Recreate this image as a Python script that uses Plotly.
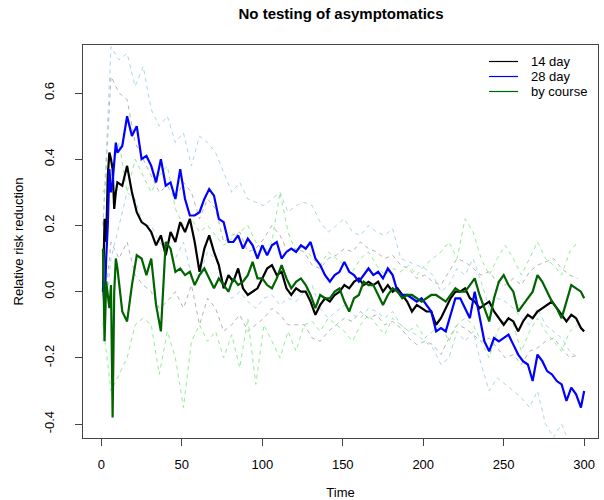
import plotly.graph_objects as go

# Daily estimates: days 1-9 individually, then every third day, then day 300
days = list(range(1, 10)) + list(range(10, 299, 3)) + [300]

rr_14day = [0.00, 0.22, 0.15, 0.35, 0.42, 0.40, 0.37, 0.25, 0.30,
            0.33, 0.32, 0.38, 0.30, 0.24, 0.21, 0.20, 0.18, 0.14, 0.17,
            0.11, 0.18, 0.15, 0.21, 0.18, 0.22, 0.15, 0.06, 0.13, 0.17,
            0.12, 0.08, 0.01, 0.05, 0.03, 0.07, 0.01, -0.01, 0.00, 0.01,
            0.04, 0.07, 0.08, 0.05, 0.06, 0.01, -0.01, 0.01, 0.00, 0.00,
            -0.03, -0.07, -0.04, -0.02, -0.03, -0.01, 0.00, 0.02, 0.01, 0.03,
            0.04, 0.02, 0.03, 0.02, 0.03, 0.00, 0.02, 0.00, 0.01, -0.01,
            -0.03, -0.06, -0.04, -0.05, -0.06, -0.06, -0.10, -0.08, -0.05, -0.02,
            0.00, 0.00, 0.01, -0.02, -0.03, -0.05, -0.04, -0.03, -0.06, -0.08,
            -0.10, -0.08, -0.09, -0.12, -0.09, -0.07, -0.08, -0.06, -0.05, -0.04,
            -0.03, -0.05, -0.07, -0.09, -0.07, -0.08, -0.11,
            -0.12]

rr_28day = [0.03, -0.05, 0.10, 0.20, 0.37, 0.30, 0.33, 0.38, 0.45,
            0.42, 0.44, 0.53, 0.47, 0.50, 0.40, 0.41, 0.38, 0.33, 0.40,
            0.32, 0.33, 0.28, 0.37, 0.28, 0.23, 0.23, 0.24, 0.28, 0.31,
            0.29, 0.22, 0.21, 0.15, 0.15, 0.17, 0.13, 0.16, 0.14, 0.10,
            0.14, 0.11, 0.14, 0.15, 0.10, 0.12, 0.13, 0.12, 0.14, 0.13,
            0.15, 0.10, 0.08, 0.05, 0.03, 0.05, 0.06, 0.09, 0.06, 0.05,
            0.03, 0.05, 0.07, 0.05, 0.06, 0.04, 0.07, 0.05, 0.00, -0.01,
            -0.01, -0.02, -0.03, -0.02, -0.04, -0.06, -0.12, -0.11, -0.12, -0.07,
            -0.02, -0.02, -0.05, -0.08, 0.00, -0.07, -0.15, -0.18, -0.14, -0.15,
            -0.14, -0.13, -0.16, -0.19, -0.21, -0.22, -0.27, -0.19, -0.21, -0.24,
            -0.25, -0.27, -0.28, -0.33, -0.29, -0.31, -0.35,
            -0.30]

rr_course = [0.13, -0.15, 0.03, -0.02, -0.05, 0.02, -0.38, 0.00, 0.10,
             0.07, -0.06, -0.09, 0.02, 0.11, 0.10, 0.05, 0.10, -0.04, -0.12,
             0.15, 0.13, 0.06, 0.07, 0.05, 0.06, 0.02, 0.05, 0.07, 0.04,
             0.01, 0.04, 0.02, 0.00, 0.04, 0.02, 0.03, 0.05, 0.09, 0.04,
             0.04, 0.02, 0.01, 0.04, 0.08, 0.04, 0.01, 0.03, 0.04, 0.02,
             -0.01, -0.05, -0.01, -0.02, -0.02, 0.00, 0.01, -0.03, -0.06, -0.02,
             -0.01, 0.03, 0.02, 0.02, -0.01, -0.04, -0.01, 0.01, 0.00, -0.02,
             -0.01, -0.01, -0.02, -0.03, -0.02, -0.01, -0.01, -0.02, -0.03, -0.01,
             0.01, 0.00, 0.00, 0.02, 0.04, -0.01, -0.05, -0.09, -0.02, 0.03,
             0.05, 0.02, 0.00, -0.06, -0.04, -0.02, 0.00, 0.05, 0.03, 0.00,
             -0.03, -0.05, -0.08, -0.03, 0.02, 0.01, 0.00,
             -0.02]

# Interval bounds, every fifth day
ci_days = list(range(1, 300, 5))

hi_14day = [0.20, 0.65, 0.60, 0.58, 0.45, 0.40, 0.35, 0.30, 0.32, 0.28,
            0.33, 0.30, 0.22, 0.28, 0.25, 0.15, 0.17, 0.18, 0.12, 0.13,
            0.16, 0.20, 0.17, 0.12, 0.13, 0.12, 0.08, 0.07, 0.10, 0.11,
            0.13, 0.12, 0.15, 0.13, 0.12, 0.10, 0.11, 0.08, 0.07, 0.04,
            0.05, 0.03, 0.02, 0.06, 0.10, 0.09, 0.07, 0.05, 0.06, 0.03,
            0.02, 0.04, 0.02, 0.06, 0.08, 0.09, 0.10, 0.07, 0.05, 0.04]
lo_14day = [-0.10, 0.15, 0.10, 0.15, 0.05, 0.02, 0.00, -0.05, -0.03, 0.00,
            -0.05, 0.02, -0.10, -0.02, -0.05, -0.12, -0.10, -0.07, -0.12, -0.10,
            -0.08, -0.05, -0.07, -0.10, -0.10, -0.10, -0.14, -0.15, -0.12, -0.10,
            -0.08, -0.09, -0.06, -0.08, -0.07, -0.10, -0.09, -0.11, -0.14, -0.16,
            -0.15, -0.16, -0.19, -0.14, -0.10, -0.11, -0.13, -0.15, -0.14, -0.17,
            -0.20, -0.19, -0.22, -0.18, -0.17, -0.15, -0.14, -0.17, -0.20, -0.19]
hi_28day = [0.20, 0.74, 0.70, 0.72, 0.62, 0.68, 0.55, 0.50, 0.53, 0.45,
            0.48, 0.38, 0.47, 0.45, 0.42, 0.36, 0.30, 0.33, 0.28, 0.27,
            0.26, 0.28, 0.30, 0.24, 0.26, 0.27, 0.26, 0.21, 0.18, 0.20,
            0.22, 0.18, 0.17, 0.20, 0.18, 0.17, 0.19, 0.10, 0.09, 0.08,
            0.07, 0.05, 0.00, 0.02, 0.07, 0.05, 0.10, 0.03, -0.05, -0.02,
            -0.03, -0.05, -0.08, -0.10, -0.05, -0.10, -0.12, -0.14, -0.18, -0.20]
lo_28day = [-0.15, 0.10, 0.20, 0.30, 0.28, 0.20, 0.20, 0.15, 0.12, 0.10,
            0.15, 0.05, 0.05, 0.12, 0.10, 0.03, -0.02, 0.00, -0.03, -0.05,
            -0.02, -0.01, -0.04, -0.02, -0.03, 0.00, 0.02, -0.05, -0.08, -0.06,
            -0.04, -0.07, -0.08, -0.05, -0.06, -0.08, -0.06, -0.10, -0.12, -0.13,
            -0.15, -0.17, -0.22, -0.20, -0.12, -0.15, -0.12, -0.22, -0.30, -0.26,
            -0.28, -0.30, -0.32, -0.35, -0.30, -0.40, -0.44, -0.40, -0.46, -0.45]
hi_course = [0.30, 0.35, 0.45, 0.30, 0.40, 0.35, 0.30, 0.35, 0.38, 0.25,
             0.20, 0.22, 0.18, 0.20, 0.17, 0.14, 0.16, 0.18, 0.20, 0.15,
             0.12, 0.15, 0.30, 0.18, 0.12, 0.14, 0.10, 0.08, 0.12, 0.10,
             0.08, 0.06, 0.10, 0.12, 0.08, 0.05, 0.07, 0.06, 0.08, 0.05,
             0.08, 0.10, 0.12, 0.15, 0.10, 0.22, 0.18, 0.10, 0.05, 0.10,
             0.14, 0.10, 0.05, 0.10, 0.15, 0.10, 0.08, 0.05, 0.12, 0.15]
lo_course = [-0.10, -0.30, -0.25, -0.20, -0.10, -0.08, -0.10, -0.25, -0.12, -0.20,
             -0.35, -0.15, -0.10, -0.15, -0.12, -0.20, -0.13, -0.23, -0.08, -0.28,
             -0.10, -0.15, -0.20, -0.12, -0.18, -0.10, -0.09, -0.12, -0.08, -0.10,
             -0.12, -0.15, -0.10, -0.07, -0.10, -0.13, -0.08, -0.10, -0.12, -0.10,
             -0.14, -0.12, -0.10, -0.15, -0.10, -0.08, -0.10, -0.15, -0.20, -0.12,
             -0.08, -0.10, -0.18, -0.12, -0.08, -0.12, -0.15, -0.18, -0.12, -0.10]

series_names = ["14 day", "28 day", "by course"]
y_ticks = [-0.4, -0.2, 0.0, 0.2, 0.4, 0.6]
y_tick_labels = ["-0.4", "-0.2", "0.0", "0.2", "0.4", "0.6"]
x_ticks = [0, 50, 100, 150, 200, 250, 300]

assert len(days) == len(rr_14day) == len(rr_28day) == len(rr_course)
for b in (hi_14day, lo_14day, hi_28day, lo_28day, hi_course, lo_course):
    assert len(b) == len(ci_days)

FONT = "Liberation Sans, Arial, sans-serif"
main_colors = ["#000000", "#0000ff", "#006400"]
band_colors = ["#b4b4b4", "#a8d8e8", "#90ee90"]

W, H = 604, 500
ML, MR, MT, MB = 83, 6, 45, 62
PW, PH = W - ML - MR, H - MT - MB

fig = go.Figure()

# dashed interval bounds
for bounds, col in zip([(hi_14day, lo_14day), (hi_28day, lo_28day), (hi_course, lo_course)],
                       band_colors):
    for b in bounds:
        fig.add_trace(go.Scatter(x=ci_days, y=b, mode="lines", showlegend=False,
                                 hoverinfo="skip",
                                 line=dict(color=col, width=1, dash="4px,4px")))

# point estimates
for vals, col, name in zip([rr_14day, rr_28day, rr_course], main_colors, series_names):
    fig.add_trace(go.Scatter(x=days, y=vals, mode="lines", name=name, showlegend=False,
                             line=dict(color=col, width=2.2)))

# compact legend in the top-right corner (thin keys, tight rows)
def px_x(px):
    return (px - ML) / PW

def px_y(py):
    return 1 - (py - MT) / PH

shapes, annotations = [], []
for k, (name, col) in enumerate(zip(series_names, main_colors)):
    row_y = 61.5 + 15 * k
    shapes.append(dict(type="line", xref="paper", yref="paper",
                       x0=px_x(489), x1=px_x(518), y0=px_y(row_y), y1=px_y(row_y),
                       line=dict(color=col, width=1.2)))
    annotations.append(dict(xref="paper", yref="paper", x=px_x(529), y=px_y(row_y),
                            text=name, showarrow=False, xanchor="left", yanchor="middle",
                            font=dict(family=FONT, size=13, color="#000000")))

fig.update_layout(
    width=W, height=H,
    margin=dict(l=ML, r=MR, t=MT, b=MB, autoexpand=False),
    paper_bgcolor="white", plot_bgcolor="white",
    font=dict(family=FONT, size=13, color="#000000"),
    title=dict(text="<b>No testing of asymptomatics</b>", x=341 / W,
               xanchor="center", y=1 - 14 / H, yanchor="middle",
               font=dict(family=FONT, size=15)),
    shapes=shapes, annotations=annotations,
    showlegend=False,
)

fig.update_xaxes(range=[-11.4, 308.6], tickvals=x_ticks, ticks="outside", ticklen=7,
                 tickcolor="#444", showgrid=False, zeroline=False, automargin=False,
                 showline=True, linecolor="#444", linewidth=1, mirror=True,
                 tickfont=dict(size=13), ticklabelstandoff=7,
                 title=dict(text="Time", font=dict(size=13), standoff=20))
fig.update_yaxes(range=[-0.442, 0.745], tickvals=y_ticks, ticktext=y_tick_labels,
                 ticks="outside", ticklen=7, tickcolor="#444", tickangle=-90,
                 showgrid=False, zeroline=False, automargin=False,
                 showline=True, linecolor="#444", linewidth=1, mirror=True,
                 tickfont=dict(size=13), ticklabelstandoff=16,
                 title=dict(text="Relative risk reduction", font=dict(size=13), standoff=15))

fig.write_html("out.html")
